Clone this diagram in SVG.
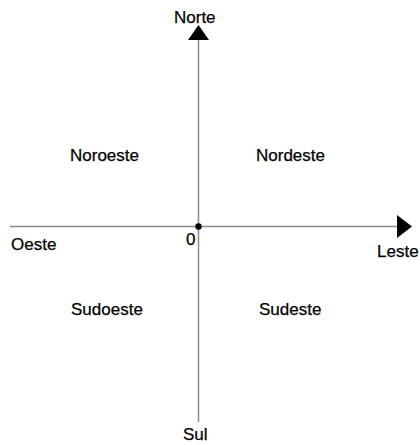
<svg xmlns="http://www.w3.org/2000/svg" width="420" height="445" viewBox="0 0 420 445">
<style>
.ax{stroke:#8a8a8a;stroke-width:1.5;fill:none}
.hd{fill:#000}
text{font-family:"Liberation Sans",Arial,sans-serif;font-size:17px;fill:#000;stroke:#000;stroke-width:0.25}
</style>
<rect width="420" height="445" fill="#fff"/>
<g id="connectors">
<line class="ax" x1="198.5" y1="38" x2="198.5" y2="422"/>
<line class="ax" x1="10" y1="226.5" x2="399" y2="226.5"/>
<polygon class="hd" points="198.5,25 188,40 209,40"/>
<polygon class="hd" points="412,226.5 397,215 397,238"/>
</g>
<g id="origin">
<circle cx="198.5" cy="226.5" r="3.2" fill="#000"/>
<text x="186" y="245">0</text>
</g>
<g id="norte"><text x="174" y="23">Norte</text></g>
<g id="sul"><text x="183" y="440">Sul</text></g>
<g id="oeste"><text x="11" y="250">Oeste</text></g>
<g id="leste"><text x="377" y="257">Leste</text></g>
<g id="noroeste"><text x="70" y="161">Noroeste</text></g>
<g id="nordeste"><text x="256" y="161">Nordeste</text></g>
<g id="sudoeste"><text x="71" y="315">Sudoeste</text></g>
<g id="sudeste"><text x="259" y="315">Sudeste</text></g>
</svg>
